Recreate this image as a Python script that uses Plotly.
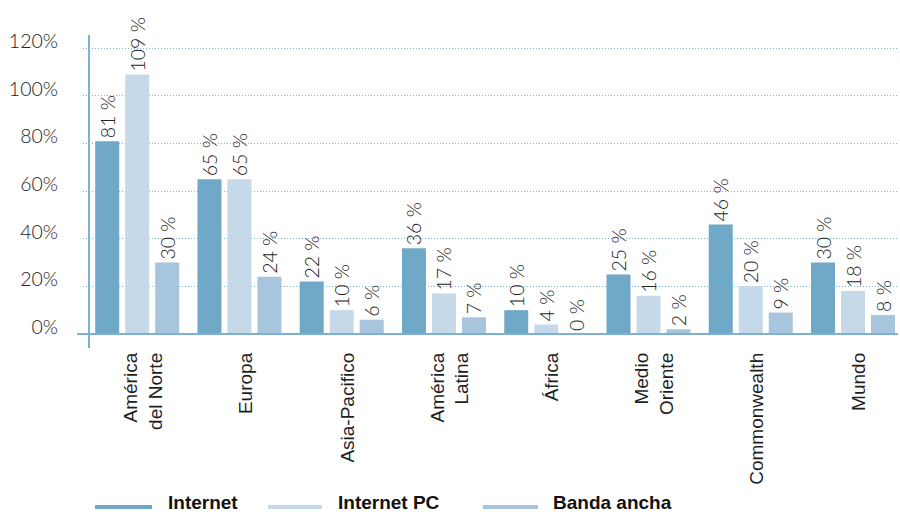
import plotly.graph_objects as go

# Regions and penetration values (%)
regiones = ["América<br>del Norte", "Europa", "Asia-Pacifico", "América<br>Latina",
            "África", "Medio<br>Oriente", "Commonwealth", "Mundo"]
internet = [81, 65, 22, 36, 10, 25, 46, 30]
internet_pc = [109, 65, 10, 17, 4, 16, 20, 18]
banda_ancha = [30, 24, 6, 7, 0, 2, 9, 8]

series_nombres = ["Internet", "Internet PC", "Banda ancha"]
colores = ["#70a8c8", "#c6d9e8", "#a7c5dc"]
y_ticks = [0, 20, 40, 60, 80, 100, 120]

W, H = 900, 514
ML, MR, MT, MB = 83, 2, 35, 166
PW, PH = W - ML - MR, H - MT - MB


def px_x(x):
    return (x - ML) / PW


def px_y(y):
    return (H - MB - y) / PH


value_font = dict(family="Lato", size=19.5, color="#222222", weight=300)

fig = go.Figure()
for nombre, vals, col in zip(series_nombres, [internet, internet_pc, banda_ancha], colores):
    fig.add_trace(go.Bar(
        x=list(range(len(regiones))), y=vals, name=nombre,
        marker=dict(color=col, line=dict(width=0)),
        text=[f"{v} %" for v in vals], textposition="outside", textangle=-90,
        textfont=value_font, constraintext="none", cliponaxis=False,
        showlegend=False,
    ))

shapes = [
    # vertical axis line
    dict(type="line", xref="paper", yref="paper", x0=px_x(89), x1=px_x(89),
         y0=0, y1=1, line=dict(color="#7db0d2", width=2)),
    # baseline
    dict(type="line", xref="paper", yref="y", x0=px_x(77), x1=1,
         y0=0, y1=0, line=dict(color="#7db0d2", width=2)),
]
annotations = []

# legend drawn as line samples with bold labels
legend_items = [(95, 152, 167), (268, 322, 337), (483, 538, 552)]
for (lx0, lx1, tx), nombre, col in zip(legend_items, series_nombres, colores):
    shapes.append(dict(type="line", xref="paper", yref="paper",
                       x0=px_x(lx0), x1=px_x(lx1), y0=px_y(507), y1=px_y(507),
                       line=dict(color=col, width=4)))
    annotations.append(dict(xref="paper", yref="paper", x=px_x(tx), y=px_y(514),
                            xanchor="left", yanchor="bottom", showarrow=False,
                            borderpad=0, text=f"<b>{nombre}</b>",
                            font=dict(family="Liberation Sans", size=19, color="#111111")))

fig.update_layout(
    width=W, height=H,
    margin=dict(l=ML, r=MR, t=MT, b=MB, pad=0),
    paper_bgcolor="white", plot_bgcolor="white",
    barmode="group", bargap=0.12, bargroupgap=0.2,
    shapes=shapes, annotations=annotations,
    showlegend=False,
    xaxis=dict(
        range=[-0.53, 7.44], tickmode="array",
        tickvals=list(range(len(regiones))), ticktext=regiones,
        tickangle=-90, showgrid=False, zeroline=False, showline=False, ticks="",
        ticklabelshift=6,
        tickfont=dict(family="Liberation Sans", size=19, color="#1e1e1e"),
    ),
    yaxis=dict(
        range=[-5.9, 125.6], tickmode="array", tickvals=y_ticks,
        ticktext=[f"{v}%" for v in y_ticks],
        showgrid=True, gridcolor="#7fb3d5", gridwidth=1, griddash="1px,2px",
        zeroline=False, showline=False, ticks="",
        ticklabelstandoff=24, ticklabelshift=-7,
        tickfont=dict(family="Lato", size=19.5, color="#222222", weight=300),
    ),
)

fig.write_html("out.html")
